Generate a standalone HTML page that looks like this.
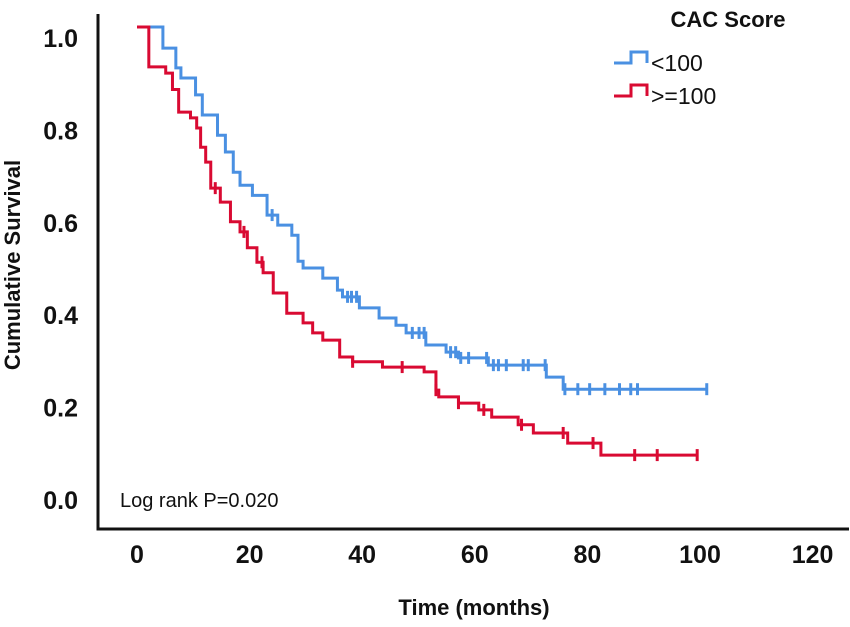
<!DOCTYPE html>
<html><head><meta charset="utf-8"><style>
body{margin:0;background:#fff;}
svg{display:block;font-family:"Liberation Sans",Arial,sans-serif;}
</style></head><body>
<svg id="chart" width="850" height="627" viewBox="0 0 850 627">
<g id="axes"></g>
<g id="curves"></g>
</svg>
<script>
const xTicks=[0,20,40,60,80,100,120];
const yTicks=[0.0,0.2,0.4,0.6,0.8,1.0];
const blueT=[0,4.6,6.9,7.8,10.4,11.6,14.3,15.7,17.1,18.3,20.5,23.1,25.0,27.5,28.6,29.5,33.0,35.6,36.5,39.5,43.0,46.0,47.8,51.3,54.9,57.1,62.4,72.7,75.7];
const blueS=[1.0,0.956,0.915,0.894,0.859,0.817,0.775,0.740,0.698,0.671,0.650,0.609,0.588,0.567,0.513,0.499,0.478,0.453,0.439,0.416,0.395,0.380,0.364,0.339,0.324,0.312,0.297,0.272,0.247];
const blueEnd=101.2;
const blueCens=[24,37.4,38.1,39,48.9,50.1,51,55.7,56.6,57.5,58.9,62.1,63.3,64.2,65.6,68.6,69.5,72.5,76,78.3,80.4,83.1,85.7,87.7,88.9,101.2];
const redT=[0,2.1,5.1,6.3,7.4,9.5,10.6,11.3,12.2,13.1,14.8,16.6,18.3,19.6,21.3,22.4,24.2,26.6,29.5,31.2,33.0,36.0,38.3,43.6,51.0,53.1,53.6,57.1,60.7,63.0,67.7,70.4,76.5,82.4];
const redS=[1.0,0.917,0.904,0.870,0.823,0.811,0.790,0.750,0.719,0.665,0.636,0.595,0.574,0.541,0.511,0.489,0.447,0.405,0.385,0.364,0.349,0.314,0.304,0.293,0.283,0.245,0.231,0.218,0.204,0.189,0.173,0.156,0.135,0.110];
const redEnd=99.5;
const redCens=[13.9,19,22.2,38.3,47.1,53.1,57.1,61.6,68.3,75.7,81,88.4,92.4,99.5];

const NS="http://www.w3.org/2000/svg";
function X(t){return 137+5.63*t;}
function Y(s){return 508-481*s;}
function YL(s){return 500-462*s;}
function mk(tag,attrs,parent){const e=document.createElementNS(NS,tag);for(const k in attrs)e.setAttribute(k,attrs[k]);parent.appendChild(e);return e;}
const axes=document.getElementById('axes');
const curves=document.getElementById('curves');

let e=mk('line',{x1:98,y1:14,x2:98,y2:529,stroke:'#111','stroke-width':3},axes);


e=mk('line',{x1:96.5,y1:529,x2:849,y2:529,stroke:'#111','stroke-width':3},axes);



yTicks.forEach(v=>{
  const t=mk('text',{x:78,y:YL(v)+9,'text-anchor':'end','font-size':25,'font-weight':'bold',fill:'#111'},axes);
  t.textContent=v.toFixed(1);
  
  
});
xTicks.forEach(v=>{
  const t=mk('text',{x:X(v),y:563,'text-anchor':'middle','font-size':25,'font-weight':'bold',fill:'#111'},axes);
  t.textContent=v;
  
  
});
e=mk('text',{x:474,y:615,'text-anchor':'middle','font-size':22,'font-weight':'bold',fill:'#111'},axes);
e.textContent='Time (months)';


e=mk('text',{x:0,y:0,transform:'translate(20,265) rotate(-90)','text-anchor':'middle','font-size':22,'font-weight':'bold',fill:'#111'},axes);
e.textContent='Cumulative Survival';


e=mk('text',{x:120,y:507,'font-size':20,fill:'#111'},axes);
e.textContent='Log rank P=0.020';



function drawCurve(T,S,end,cens,color,name){
  let d='M'+X(T[0])+','+Y(S[0]);
  for(let i=1;i<T.length;i++){d+=' H'+X(T[i])+' V'+Y(S[i]);}
  d+=' H'+X(end);
  const p=mk('path',{d:d,fill:'none',stroke:color,'stroke-width':3},curves);
  
  
  cens.forEach(c=>{
    let s=S[0];for(let i=0;i<T.length;i++){if(T[i]<=c)s=S[i];}
    const m=mk('path',{d:'M'+X(c)+','+(Y(s)-6)+' V'+(Y(s)+6),stroke:color,'stroke-width':3},curves);
    
    
  });
}
drawCurve(blueT,blueS,blueEnd,blueCens,'#4a90e2','cac-under-100');
drawCurve(redT,redS,redEnd,redCens,'#d90a32','cac-100-plus');

e=mk('text',{x:728,y:27,'text-anchor':'middle','font-size':22,'font-weight':'bold',fill:'#111'},axes);
e.textContent='CAC Score';


const leg=[['#4a90e2','<100',63],['#d90a32','>=100',96]];
leg.forEach(l=>{
  const g=mk('g',{},axes);
  
  
  mk('path',{d:'M614,'+l[2]+' H631 V'+(l[2]-11)+' H647 V'+l[2],fill:'none',stroke:l[0],'stroke-width':3},g);
  const t=mk('text',{x:651,y:l[2]+8,'font-size':23,fill:'#111'},g);
  t.textContent=l[1];
});
</script>
</body></html>
